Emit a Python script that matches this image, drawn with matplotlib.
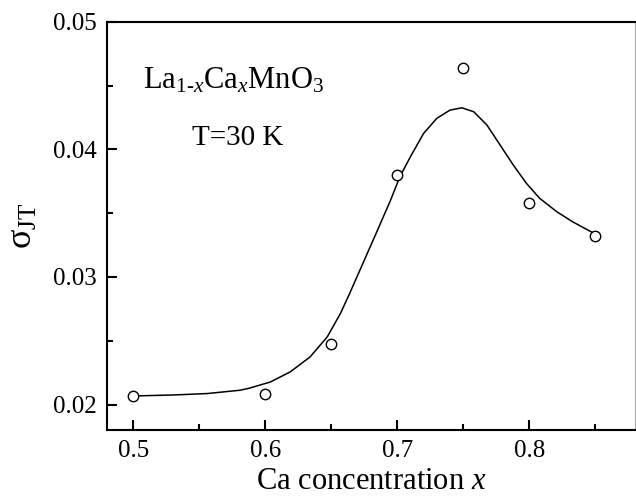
import matplotlib
matplotlib.use("Agg")
import matplotlib.pyplot as plt
from matplotlib.ticker import MultipleLocator

plt.rcParams['font.family'] = ['Liberation Serif', 'DejaVu Serif']
plt.rcParams['mathtext.fontset'] = 'custom'
plt.rcParams['mathtext.rm'] = 'Liberation Serif'
plt.rcParams['mathtext.it'] = 'Liberation Serif:italic'

# measured points
x_meas = [0.50, 0.60, 0.65, 0.70, 0.75, 0.80, 0.85]
y_meas = [0.02067, 0.02086, 0.02471, 0.03796, 0.04637, 0.03579, 0.03323]

# guide-to-the-eye curve
x_fit = [0.500, 0.531, 0.556, 0.581, 0.588, 0.604, 0.619, 0.634, 0.647,
         0.657, 0.664, 0.674, 0.684, 0.695, 0.702, 0.710, 0.720, 0.730,
         0.740, 0.749, 0.758, 0.768, 0.778, 0.788, 0.798, 0.808, 0.821,
         0.833, 0.847, 0.850]
y_fit = [0.02067, 0.02075, 0.02086, 0.02112, 0.02128, 0.02177, 0.02256,
         0.02373, 0.02530, 0.02714, 0.02871, 0.03106, 0.03341, 0.03602,
         0.03785, 0.03942, 0.04125, 0.04243, 0.04308, 0.04326, 0.04295,
         0.04191, 0.04034, 0.03877, 0.03733, 0.03616, 0.03511, 0.03432,
         0.03354, 0.03340]

fig = plt.figure(figsize=(6.36, 4.96), dpi=100)
ax = fig.add_axes([0.168, 0.133, 0.830, 0.823])

ax.plot(x_fit, y_fit, color='black', lw=1.1)
ax.plot(x_meas, y_meas, 'o', ms=7.5, mfc='white', mec='black', mew=1.0)

ax.set_xlim(0.48, 0.88)
ax.set_ylim(0.018, 0.05)
ax.xaxis.set_minor_locator(MultipleLocator(0.05))
ax.yaxis.set_minor_locator(MultipleLocator(0.005))
ax.set_xticks([0.5, 0.6, 0.7, 0.8])
ax.set_xticklabels(['0.5', '0.6', '0.7', '0.8'])
ax.set_yticks([0.02, 0.03, 0.04, 0.05])
ax.set_yticklabels(['0.02', '0.03', '0.04', '0.05'])

ax.tick_params(which='both', direction='in', top=False, right=False,
               labelsize=18, width=1.5)
ax.tick_params(which='major', length=7, pad=7)
ax.tick_params(which='minor', length=4.5)
for s in ax.spines.values():
    s.set_linewidth(1.5)
ax.spines['right'].set_linewidth(0.6)
ax.spines['right'].set_color('#999999')

ax.set_xlabel(r'Ca concentration $\mathit{x}$', fontsize=22, labelpad=4)
ax.set_ylabel(r'σ$_{\mathrm{JT}}$', fontsize=26, labelpad=10)

ax.text(0.240, 0.855, 'La$_{1\u2010\\mathit{x}}$Ca$_{\\mathit{x}}$MnO$_3$',
        transform=ax.transAxes, ha='center', va='center', fontsize=22)
ax.text(0.247, 0.716, 'T=30 K', transform=ax.transAxes,
        ha='center', va='center', fontsize=21)

fig.savefig('out.png', dpi=100)
